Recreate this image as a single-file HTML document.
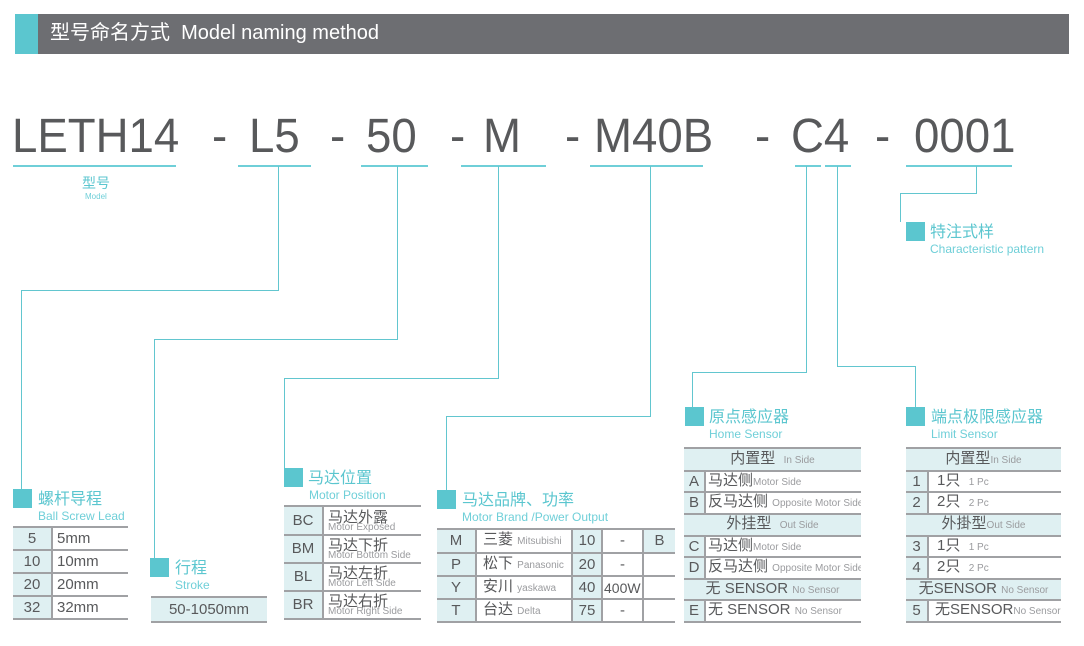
<!DOCTYPE html>
<html><head><meta charset="utf-8">
<style>
*{margin:0;padding:0;box-sizing:border-box}
body{width:1084px;height:646px;background:#fff;position:relative;overflow:hidden;font-family:"Liberation Sans","Noto Sans CJK SC",sans-serif;color:#58595b}
.a{position:absolute}
.hl{position:absolute;height:2px;background:#6fcfd8}
.ln{position:absolute;background:#62c6cf}
.sq{position:absolute;width:19px;height:19px;background:#5bc6cf}
.t{position:absolute;color:#5bc6cf;font-size:16px;white-space:nowrap;line-height:18px}
.e{position:absolute;color:#6fcfd8;font-size:12px;white-space:nowrap;line-height:13px}
.code{position:absolute;top:109px;font-size:48px;line-height:56px;color:#58595b;white-space:nowrap;transform:scaleX(0.95);transform-origin:left top}
table{position:absolute;border-collapse:collapse;table-layout:fixed;font-size:15px;color:#58595b}
td{border-top:2px solid #a0a1a4;border-bottom:2px solid #a0a1a4;padding:0 0 0 4px;white-space:nowrap;overflow:hidden;line-height:16px}
td.b{background:#dff0f2;text-align:center;padding:0}
td.r{border-right:2px solid #a0a1a4}
small{font-size:10px;color:#9a9b9e}
.s2{font-size:10px;color:#9a9b9e;display:block;line-height:9px;margin-top:-3px}
</style></head><body>
<div class="a" style="left:15px;top:14px;width:1054px;height:40px;background:#6d6e72"></div>
<div class="a" style="left:15px;top:14px;width:23px;height:40px;background:#5bc6cf"></div>
<div class="a" style="left:50px;top:22px;color:#fff;font-size:20px;line-height:23px;white-space:nowrap">型号命名方式&nbsp; Model naming method</div>

<div class="code" style="left:12px">LETH14</div>
<div class="code" style="left:212px">-</div>
<div class="code" style="left:249px">L5</div>
<div class="code" style="left:330px">-</div>
<div class="code" style="left:366px">50</div>
<div class="code" style="left:450px">-</div>
<div class="code" style="left:483px">M</div>
<div class="code" style="left:565px">-</div>
<div class="code" style="left:594px">M40B</div>
<div class="code" style="left:755px">-</div>
<div class="code" style="left:791px">C4</div>
<div class="code" style="left:875px">-</div>
<div class="code" style="left:914px">0001</div>

<div class="hl" style="left:13px;top:165px;width:163px"></div>
<div class="hl" style="left:238px;top:165px;width:73px"></div>
<div class="hl" style="left:361px;top:165px;width:67px"></div>
<div class="hl" style="left:461px;top:165px;width:85px"></div>
<div class="hl" style="left:590px;top:165px;width:113px"></div>
<div class="hl" style="left:795px;top:165px;width:26px"></div>
<div class="hl" style="left:825px;top:165px;width:26px"></div>
<div class="hl" style="left:906px;top:165px;width:106px"></div>
<div class="t" style="left:82px;top:174px;font-size:14px">型号</div>
<div class="e" style="left:85px;top:190px;font-size:8px">Model</div>

<div class="ln" style="left:278px;top:166px;width:1px;height:125px"></div>
<div class="ln" style="left:21px;top:290px;width:258px;height:1px"></div>
<div class="ln" style="left:21px;top:290px;width:1px;height:200px"></div>

<div class="ln" style="left:397px;top:166px;width:1px;height:174px"></div>
<div class="ln" style="left:154px;top:339px;width:244px;height:1px"></div>
<div class="ln" style="left:154px;top:339px;width:1px;height:220px"></div>

<div class="ln" style="left:498px;top:166px;width:1px;height:212px"></div>
<div class="ln" style="left:284px;top:378px;width:215px;height:1px"></div>
<div class="ln" style="left:284px;top:378px;width:1px;height:90px"></div>

<div class="ln" style="left:650px;top:166px;width:1px;height:251px"></div>
<div class="ln" style="left:446px;top:416px;width:205px;height:1px"></div>
<div class="ln" style="left:446px;top:416px;width:1px;height:74px"></div>

<div class="ln" style="left:806px;top:166px;width:1px;height:207px"></div>
<div class="ln" style="left:692px;top:372px;width:115px;height:1px"></div>
<div class="ln" style="left:692px;top:372px;width:1px;height:35px"></div>

<div class="ln" style="left:837px;top:166px;width:1px;height:201px"></div>
<div class="ln" style="left:837px;top:366px;width:79px;height:1px"></div>
<div class="ln" style="left:915px;top:366px;width:1px;height:41px"></div>

<div class="ln" style="left:976px;top:166px;width:1px;height:28px"></div>
<div class="ln" style="left:900px;top:193px;width:77px;height:1px"></div>
<div class="ln" style="left:900px;top:193px;width:1px;height:29px"></div>

<div class="sq" style="left:906px;top:222px"></div>
<div class="t" style="left:930px;top:224px">特注式样</div>
<div class="e" style="left:930px;top:243px">Characteristic pattern</div>

<div class="sq" style="left:13px;top:489px"></div>
<div class="t" style="left:38px;top:491px">螺杆导程</div>
<div class="e" style="left:38px;top:510px">Ball Screw Lead</div>

<div class="sq" style="left:150px;top:558px"></div>
<div class="t" style="left:175px;top:560px">行程</div>
<div class="e" style="left:175px;top:579px">Stroke</div>

<div class="sq" style="left:284px;top:468px"></div>
<div class="t" style="left:308px;top:470px">马达位置</div>
<div class="e" style="left:309px;top:489px">Motor Position</div>

<div class="sq" style="left:437px;top:490px"></div>
<div class="t" style="left:462px;top:492px">马达品牌、功率</div>
<div class="e" style="left:462px;top:511px">Motor Brand /Power Output</div>

<div class="sq" style="left:685px;top:407px"></div>
<div class="t" style="left:709px;top:409px">原点感应器</div>
<div class="e" style="left:709px;top:428px">Home Sensor</div>

<div class="sq" style="left:906px;top:407px"></div>
<div class="t" style="left:931px;top:409px">端点极限感应器</div>
<div class="e" style="left:931px;top:428px">Limit Sensor</div>

<table style="left:13px;top:526px;width:115px">
<colgroup><col style="width:39px"><col></colgroup>
<tr style="height:23px"><td class="b r">5</td><td>5mm</td></tr>
<tr style="height:23px"><td class="b r">10</td><td>10mm</td></tr>
<tr style="height:23px"><td class="b r">20</td><td>20mm</td></tr>
<tr style="height:23px"><td class="b r">32</td><td>32mm</td></tr>
</table>

<table style="left:151px;top:596px;width:116px">
<tr style="height:25px"><td class="b">50-1050mm</td></tr>
</table>

<table style="left:284px;top:505px;width:137px">
<colgroup><col style="width:39px"><col></colgroup>
<tr style="height:29px"><td class="b r">BC</td><td>马达外露<span class="s2">Motor Exposed</span></td></tr>
<tr style="height:28px"><td class="b r">BM</td><td>马达下折<span class="s2">Motor Bottom Side</span></td></tr>
<tr style="height:28px"><td class="b r">BL</td><td>马达左折<span class="s2">Motor Left Side</span></td></tr>
<tr style="height:28px"><td class="b r">BR</td><td>马达右折<span class="s2">Motor Right Side</span></td></tr>
</table>

<table style="left:437px;top:528px;width:238px">
<colgroup><col style="width:39px"><col style="width:96px"><col style="width:30px"><col style="width:41px"><col></colgroup>
<tr style="height:24px"><td class="b r">M</td><td class="r" style="padding-left:6px">三菱 <small>Mitsubishi</small></td><td class="b r">10</td><td class="r" style="text-align:center;padding:0">-</td><td class="b">B</td></tr>
<tr style="height:23px"><td class="b r">P</td><td class="r" style="padding-left:6px">松下 <small>Panasonic</small></td><td class="b r">20</td><td class="r" style="text-align:center;padding:0">-</td><td></td></tr>
<tr style="height:23px"><td class="b r">Y</td><td class="r" style="padding-left:6px">安川 <small>yaskawa</small></td><td class="b r">40</td><td class="r" style="padding:0 0 0 1px;font-size:14px">400W</td><td></td></tr>
<tr style="height:23px"><td class="b r">T</td><td class="r" style="padding-left:6px">台达 <small>Delta</small></td><td class="b r">75</td><td class="r" style="text-align:center;padding:0">-</td><td></td></tr>
</table>

<table style="left:684px;top:447px;width:177px">
<colgroup><col style="width:21px"><col></colgroup>
<tr style="height:23px"><td class="b" colspan="2" style="padding-left:0">内置型 &nbsp;<small>In Side</small></td></tr>
<tr style="height:21px"><td class="b r">A</td><td style="padding-left:2px">马达侧<small>Motor Side</small></td></tr>
<tr style="height:22px"><td class="b r">B</td><td style="padding-left:2px">反马达侧 <small>Opposite Motor Side</small></td></tr>
<tr style="height:22px"><td class="b" colspan="2">外挂型 &nbsp;<small>Out Side</small></td></tr>
<tr style="height:21px"><td class="b r">C</td><td style="padding-left:2px">马达侧<small>Motor Side</small></td></tr>
<tr style="height:22px"><td class="b r">D</td><td style="padding-left:2px">反马达侧 <small>Opposite Motor Side</small></td></tr>
<tr style="height:21px"><td class="b" colspan="2">无 SENSOR <small>No Sensor</small></td></tr>
<tr style="height:22px"><td class="b r">E</td><td style="padding-left:2px">无 SENSOR <small>No Sensor</small></td></tr>
</table>

<table style="left:906px;top:447px;width:155px">
<colgroup><col style="width:22px"><col></colgroup>
<tr style="height:23px"><td class="b" colspan="2">内置型<small>In Side</small></td></tr>
<tr style="height:21px"><td class="b r">1</td><td style="padding-left:8px">1只 &nbsp;<small>1 Pc</small></td></tr>
<tr style="height:22px"><td class="b r">2</td><td style="padding-left:8px">2只 &nbsp;<small>2 Pc</small></td></tr>
<tr style="height:22px"><td class="b" colspan="2">外掛型<small>Out Side</small></td></tr>
<tr style="height:21px"><td class="b r">3</td><td style="padding-left:8px">1只 &nbsp;<small>1 Pc</small></td></tr>
<tr style="height:22px"><td class="b r">4</td><td style="padding-left:8px">2只 &nbsp;<small>2 Pc</small></td></tr>
<tr style="height:21px"><td class="b" colspan="2">无SENSOR <small>No Sensor</small></td></tr>
<tr style="height:22px"><td class="b r">5</td><td style="padding-left:6px">无SENSOR<small>No Sensor</small></td></tr>
</table>
</body></html>
